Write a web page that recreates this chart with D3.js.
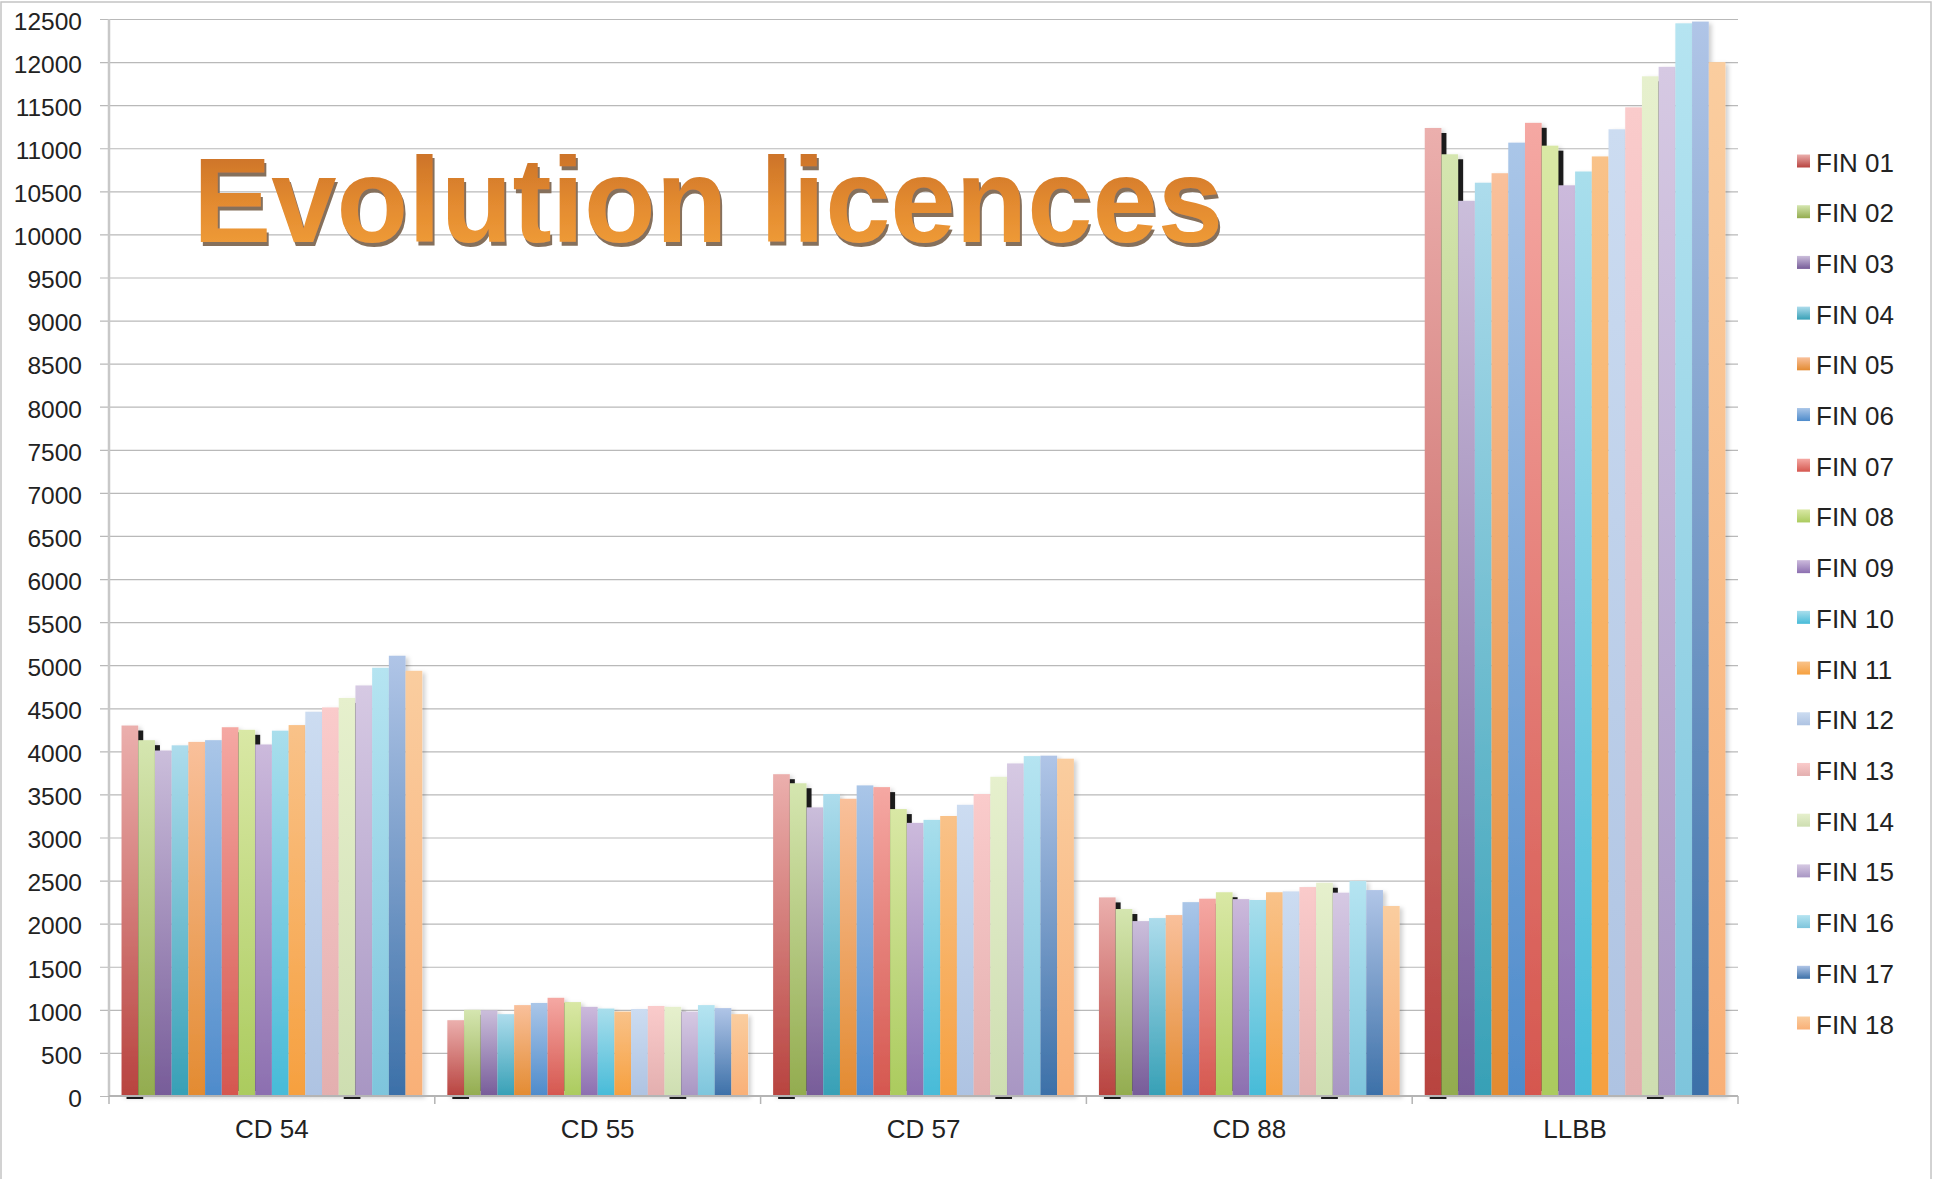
<!DOCTYPE html>
<html>
<head>
<meta charset="utf-8">
<script src="https://cdnjs.cloudflare.com/ajax/libs/d3/7.8.5/d3.min.js"></script>
<style>
  body { margin: 0; background: #fff; }
  svg text { font-family: "Liberation Sans", Arial, sans-serif; fill: #222; }
</style>
</head>
<body>
<div id="chart"></div>
<script>

// categories on the x axis
var categories = ["CD 54", "CD 55", "CD 57", "CD 88", "LLBB"];

// one bar per FIN in every category
var seriesNames = ["FIN 01", "FIN 02", "FIN 03", "FIN 04", "FIN 05", "FIN 06",
                   "FIN 07", "FIN 08", "FIN 09", "FIN 10", "FIN 11", "FIN 12",
                   "FIN 13", "FIN 14", "FIN 15", "FIN 16", "FIN 17", "FIN 18"];

// values, FIN 01 .. FIN 18
var cd54 = [4300, 4130, 4010, 4070, 4110, 4130, 4280, 4250, 4080, 4240, 4305, 4460, 4510, 4620, 4765, 4970, 5110, 4935];
var cd55 = [880, 1000, 995, 950, 1055, 1080, 1140, 1090, 1035, 1015, 980, 1010, 1045, 1035, 980, 1055, 1020, 950];
var cd57 = [3735, 3630, 3350, 3505, 3450, 3605, 3585, 3330, 3170, 3205, 3250, 3380, 3505, 3705, 3860, 3945, 3950, 3915];
var cd88 = [2305, 2170, 2030, 2065, 2100, 2250, 2290, 2365, 2285, 2275, 2365, 2375, 2425, 2475, 2360, 2495, 2390, 2205];
var llbb = [11235, 10930, 10390, 10600, 10710, 11065, 11295, 11030, 10570, 10730, 10905, 11220, 11475, 11835, 11945, 12450, 12470, 12000];

var values = [cd54, cd55, cd57, cd88, llbb];

var yTicks = d3.range(0, 12501, 500);

// series that carry the dark drop shadow in the original
var shadowSeries = ["FIN 01", "FIN 02", "FIN 07", "FIN 08", "FIN 14"];
// of those, the ones whose shadow also shows under the axis
var shadowBelow = ["FIN 01", "FIN 14"];

// gradient colours (top, bottom) per series
var colorTop = ["#ebafad", "#d5e6b0", "#cbbedb", "#addcec", "#f9c09b", "#aac6e8",
                "#f5a8a3", "#d9e8a5", "#ccbadc", "#a9deec", "#f9c289", "#ccdcf1",
                "#facbcb", "#e6f0cd", "#d6c9e3", "#b5e4f1", "#b0c5e7", "#facd9f"];
var colorBottom = ["#b8433f", "#93ac4f", "#775c99", "#37a0b6", "#e38b31", "#4e8bcb",
                   "#d5574f", "#abcb5e", "#8c6fb0", "#47bbd8", "#f6a03f", "#aec3e2",
                   "#e3afaf", "#cedeb1", "#a896c3", "#7ec5dc", "#3c70a8", "#f9b077"];

var W = 1935, H = 1179;
var plot = {left: 109, right: 1738, top: 19, bottom: 1096};

var svg = d3.select("#chart").append("svg")
        .attr("width", W)
        .attr("height", H);

var defs = svg.append("defs");

seriesNames.forEach(function (s, i) {
    var g = defs.append("linearGradient")
            .attr("id", "grad-" + i)
            .attr("x1", 0).attr("y1", 0)
            .attr("x2", 0).attr("y2", 1);
    g.append("stop").attr("offset", "0%").attr("stop-color", colorTop[i]);
    g.append("stop").attr("offset", "100%").attr("stop-color", colorBottom[i]);
});

var titleGrad = defs.append("linearGradient")
        .attr("id", "title-grad")
        .attr("x1", 0).attr("y1", 0)
        .attr("x2", 0).attr("y2", 1);
titleGrad.append("stop").attr("offset", "0%").attr("stop-color", "#c46a26");
titleGrad.append("stop").attr("offset", "55%").attr("stop-color", "#e48c30");
titleGrad.append("stop").attr("offset", "100%").attr("stop-color", "#f4a33c");

var titleShadow = defs.append("filter")
        .attr("id", "title-shadow")
        .attr("x", "-5%").attr("y", "-10%")
        .attr("width", "110%").attr("height", "130%");
titleShadow.append("feDropShadow")
        .attr("dx", 2).attr("dy", 4)
        .attr("stdDeviation", 0.6)
        .attr("flood-color", "#85705c")
        .attr("flood-opacity", 1);

var soft = defs.append("filter")
        .attr("id", "soft")
        .attr("x", "-20%").attr("y", "-5%")
        .attr("width", "160%").attr("height", "115%");
soft.append("feDropShadow")
        .attr("dx", 3).attr("dy", 2)
        .attr("stdDeviation", 2)
        .attr("flood-color", "#000")
        .attr("flood-opacity", 0.18);

// outer frame of the chart
svg.append("rect")
        .attr("x", 1).attr("y", 2)
        .attr("width", 1930).attr("height", H + 10)
        .attr("fill", "none")
        .attr("stroke", "#c4c4c4")
        .attr("stroke-width", 1.5);

var x0 = d3.scaleBand()
        .domain(categories)
        .range([plot.left, plot.right])
        .padding(0);

var x1 = d3.scaleBand()
        .domain(seriesNames)
        .range([0, x0.bandwidth()])
        .paddingInner(0)
        .paddingOuter(0.75);

var y = d3.scaleLinear()
        .domain([0, 12500])
        .range([plot.bottom, plot.top]);

// y axis with gridlines
var yAxis = d3.axisLeft(y)
        .tickValues(yTicks)
        .tickFormat(d3.format("d"))
        .tickSizeInner(-(plot.right - 100))
        .tickSizeOuter(0)
        .tickPadding(18);

var gy = svg.append("g")
        .attr("class", "y axis")
        .attr("transform", "translate(100,0)")
        .call(yAxis);
gy.select(".domain").remove();
gy.selectAll(".tick line")
        .attr("stroke", "#b9b9b9")
        .attr("stroke-width", 1.2);
gy.selectAll(".tick text")
        .attr("font-size", 24.5)
        .attr("dy", "0.42em");

svg.append("line")
        .attr("x1", plot.left).attr("x2", plot.left)
        .attr("y1", plot.top).attr("y2", plot.bottom)
        .attr("stroke", "#c8c8c8")
        .attr("stroke-width", 2.5);

// bars, one group per series so the shadows sit under the next series
var groups = svg.append("g")
        .attr("class", "bars")
        .selectAll("g")
        .data(seriesNames)
        .join("g")
        .attr("class", "series");

groups.each(function (s, i) {
    var g = d3.select(this);
    var rows = categories.map(function (c, ci) {
        return {cat: c, value: values[ci][i]};
    });
    var below = shadowBelow.indexOf(s) >= 0 ? 3 : -5;

    if (shadowSeries.indexOf(s) >= 0) {
        g.selectAll("rect.shadow")
                .data(rows)
                .join("rect")
                .attr("class", "shadow")
                .attr("x", function (d) { return x0(d.cat) + x1(s) + 5; })
                .attr("y", function (d) { return y(d.value) + 5; })
                .attr("width", x1.bandwidth())
                .attr("height", function (d) { return y(0) - y(d.value) + below - 5; })
                .attr("fill", "#1e1e1e");
    }

    g.selectAll("rect.bar")
            .data(rows)
            .join("rect")
            .attr("class", "bar")
            .attr("x", function (d) { return x0(d.cat) + x1(s); })
            .attr("y", function (d) { return y(d.value); })
            .attr("width", x1.bandwidth())
            .attr("height", function (d) { return y(0) - y(d.value); })
            .attr("fill", "url(#grad-" + i + ")")
            .attr("filter", "url(#soft)");
});

// x axis
svg.append("line")
        .attr("x1", plot.left).attr("x2", plot.right)
        .attr("y1", plot.bottom).attr("y2", plot.bottom)
        .attr("stroke", "#b4b4b4")
        .attr("stroke-width", 2);

svg.append("g")
        .attr("class", "x ticks")
        .selectAll("line")
        .data(categories.concat(["end"]))
        .join("line")
        .attr("x1", function (d) { return d === "end" ? plot.right : x0(d); })
        .attr("x2", function (d) { return d === "end" ? plot.right : x0(d); })
        .attr("y1", plot.bottom)
        .attr("y2", plot.bottom + 8)
        .attr("stroke", "#b4b4b4")
        .attr("stroke-width", 1.5);

var xAxis = d3.axisBottom(x0)
        .tickSize(0)
        .tickPadding(24);

var gx = svg.append("g")
        .attr("class", "x axis")
        .attr("transform", "translate(0," + plot.bottom + ")")
        .call(xAxis);
gx.select(".domain").remove();
gx.selectAll(".tick text")
        .attr("font-size", 26);

// title over the plot
svg.append("text")
        .attr("class", "title")
        .attr("x", 193).attr("y", 242)
        .attr("font-size", 120)
        .attr("font-weight", "bold")
        .attr("textLength", 1030)
        .attr("lengthAdjust", "spacingAndGlyphs")
        .attr("filter", "url(#title-shadow)")
        .style("fill", "url(#title-grad)")
        .text("Evolution licences");

// legend
var ly = d3.scalePoint()
        .domain(seriesNames)
        .range([162.5, 1024.5]);

var legend = svg.append("g")
        .attr("class", "legend")
        .selectAll("g")
        .data(seriesNames)
        .join("g")
        .attr("transform", function (d) { return "translate(1797," + ly(d) + ")"; });

legend.append("rect")
        .attr("x", 0).attr("y", -8)
        .attr("width", 13).attr("height", 13)
        .attr("fill", function (d, i) { return "url(#grad-" + i + ")"; });

legend.append("text")
        .attr("x", 19)
        .attr("y", 9)
        .attr("font-size", 26)
        .text(function (d) { return d; });

</script>
</body>
</html>
